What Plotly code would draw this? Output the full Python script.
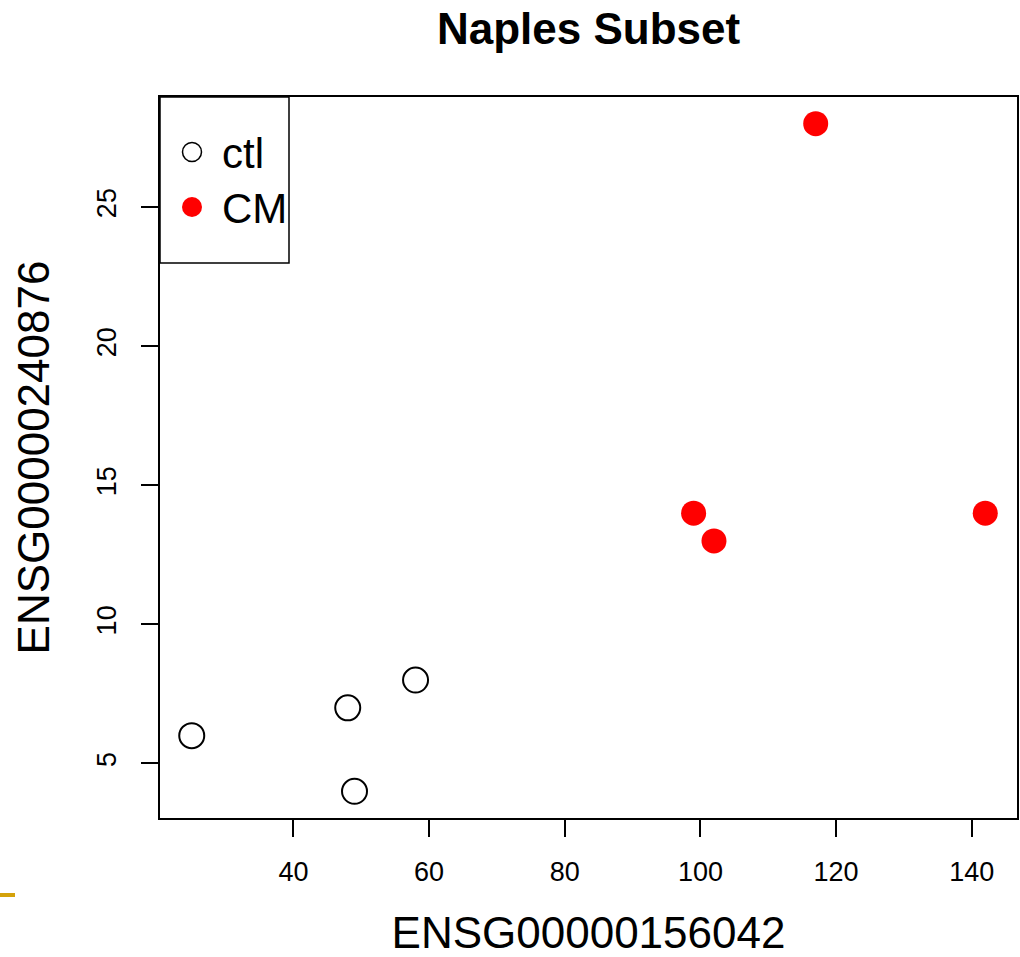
import plotly.graph_objects as go

# Data
ctl_x = [25, 48, 49, 58]
ctl_y = [6, 7, 4, 8]
cm_x = [99, 102, 117, 142]
cm_y = [14, 13, 28, 14]

x_ticks = [40, 60, 80, 100, 120, 140]
y_ticks = [5, 10, 15, 20, 25]

title_text = "Naples Subset"
x_label = "ENSG00000156042"
y_label = "ENSG00000240876"
legend_labels = ["ctl", "CM"]

FONT = "Liberation Sans, Arial, sans-serif"

# R-style 4% axis padding
def pad(vals):
    lo, hi = min(vals), max(vals)
    d = (hi - lo) * 0.04
    return [lo - d, hi + d]

all_x = ctl_x + cm_x
all_y = ctl_y + cm_y

fig = go.Figure()
fig.add_trace(go.Scatter(
    x=ctl_x, y=ctl_y, mode="markers", name=legend_labels[0], showlegend=False,
    marker=dict(symbol="circle-open", size=25, color="black", line=dict(width=2, color="black")),
))
fig.add_trace(go.Scatter(
    x=cm_x, y=cm_y, mode="markers", name=legend_labels[1], showlegend=False,
    marker=dict(symbol="circle", size=25, color="red", line=dict(width=0)),
))

W, H = 1020, 957
ml, mr, mt, mb = 160, 3, 97, 139
pw, ph = W - ml - mr, H - mt - mb

def px_x(p):
    return (p - ml) / pw

def px_y(p):
    return 1 - (p - mt) / ph

shapes = []
# legend box
shapes.append(dict(type="rect", xref="paper", yref="paper",
                   x0=px_x(160), x1=px_x(289), y0=px_y(263), y1=px_y(97),
                   line=dict(color="black", width=1.5), fillcolor="white", layer="above"))
# legend symbols
shapes.append(dict(type="circle", xref="paper", yref="paper", xsizemode="pixel", ysizemode="pixel",
                   xanchor=px_x(192), yanchor=px_y(152), x0=-9.5, x1=9.5, y0=-9.5, y1=9.5,
                   line=dict(color="black", width=1.5), fillcolor="white", layer="above"))
shapes.append(dict(type="circle", xref="paper", yref="paper", xsizemode="pixel", ysizemode="pixel",
                   xanchor=px_x(192), yanchor=px_y(207), x0=-10, x1=10, y0=-10, y1=10,
                   line=dict(color="red", width=0), fillcolor="red", layer="above"))
# small decorative stroke at bottom-left edge
shapes.append(dict(type="line", xref="paper", yref="paper",
                   x0=px_x(0), x1=px_x(15), y0=px_y(895), y1=px_y(895),
                   line=dict(color="#D4A20A", width=4)))

annotations = [
    dict(text=legend_labels[0], xref="paper", yref="paper", x=px_x(220), y=px_y(154),
         xanchor="left", yanchor="middle", showarrow=False,
         font=dict(family=FONT, size=42, color="black")),
    dict(text=legend_labels[1], xref="paper", yref="paper", x=px_x(220), y=px_y(209),
         xanchor="left", yanchor="middle", showarrow=False,
         font=dict(family=FONT, size=42, color="black")),
]

fig.update_layout(
    width=W, height=H,
    margin=dict(l=ml, r=mr, t=mt, b=mb, autoexpand=False),
    paper_bgcolor="white", plot_bgcolor="white",
    title=dict(text="<b>" + title_text + "</b>", x=(ml + pw / 2) / W, xanchor="center",
               y=1 - 29 / H, yanchor="middle",
               font=dict(family=FONT, size=44, color="black")),
    shapes=shapes,
    annotations=annotations,
    showlegend=False,
)

fig.update_xaxes(
    range=pad(all_x), tickvals=x_ticks, ticktext=[str(v) for v in x_ticks],
    showgrid=False, zeroline=False, showline=True, mirror=True,
    linecolor="black", linewidth=1.5,
    ticks="outside", ticklen=17, tickwidth=1.5, tickcolor="black",
    ticklabelstandoff=12,
    tickfont=dict(family=FONT, size=27, color="black"),
    title=dict(text=x_label, font=dict(family=FONT, size=44, color="black"), standoff=46),
)
fig.update_yaxes(
    range=pad(all_y), tickvals=y_ticks, ticktext=[str(v) for v in y_ticks],
    showgrid=False, zeroline=False, showline=True, mirror=True,
    linecolor="black", linewidth=1.5,
    ticks="outside", ticklen=17, tickwidth=1.5, tickcolor="black", tickangle=-90,
    ticklabelstandoff=14,
    tickfont=dict(family=FONT, size=27, color="black"),
    title=dict(text=y_label, font=dict(family=FONT, size=44, color="black"), standoff=29),
)

fig.write_html("out.html")
